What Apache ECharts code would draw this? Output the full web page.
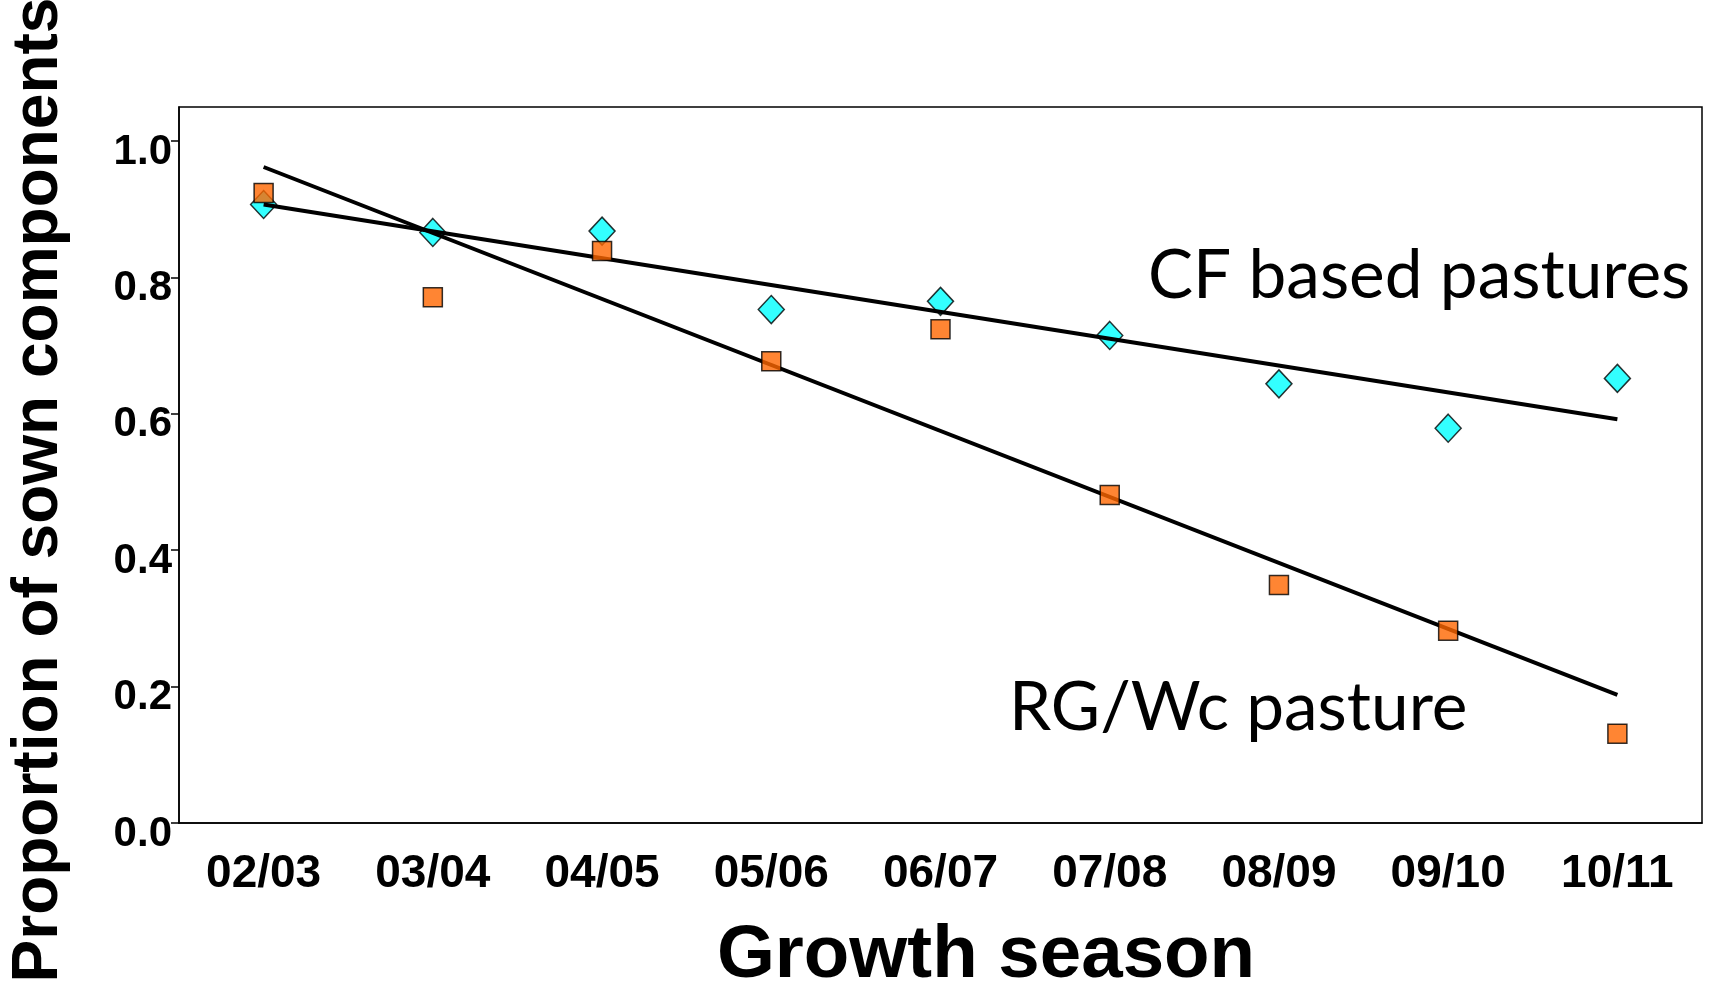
<!DOCTYPE html>
<html>
<head>
<meta charset="utf-8">
<script src="https://cdn.jsdelivr.net/npm/echarts@6/dist/echarts.min.js"></script>
<style>
html,body{margin:0;padding:0;background:#fff;}
#chart{width:1709px;height:985px;}
</style>
</head>
<body>
<div id="chart"></div>
<script>
// ---- data ----
const seasons = ['02/03','03/04','04/05','05/06','06/07','07/08','08/09','09/10','10/11'];
const cfValues = [0.907, 0.866, 0.868, 0.753, 0.765, 0.715, 0.644, 0.579, 0.652];
const rgValues = [0.924, 0.771, 0.839, 0.677, 0.724, 0.481, 0.349, 0.282, 0.131];
// fitted trend lines: value at first and last season
const cfTrend = [0.907, 0.592];
const rgTrend = [0.962, 0.188];
const yTicks = [0, 0.2, 0.4, 0.6, 0.8, 1.0];

const chart = echarts.init(document.getElementById('chart'), null, {renderer: 'canvas'});
const first = seasons[0], last = seasons[seasons.length - 1];
const boldFont = 'Liberation Sans, Arial, sans-serif';

chart.setOption({
  animation: false,
  backgroundColor: '#ffffff',
  grid: {left: 179, right: 7, top: 107, bottom: 162, show: true, borderColor: '#000', borderWidth: 1.5, backgroundColor: 'transparent'},
  xAxis: {
    type: 'category',
    data: seasons,
    boundaryGap: true,
    axisLine: {lineStyle: {color: '#000', width: 1.5}},
    axisTick: {alignWithLabel: true, length: 10, lineStyle: {color: '#000', width: 1.5}},
    axisLabel: {color: '#000', fontFamily: boldFont, fontWeight: 'bold', fontSize: 46, margin: 28, interval: 0},
    splitLine: {show: false}
  },
  yAxis: {
    type: 'value',
    min: 0, max: 1.05,
    axisLine: {show: true, lineStyle: {color: '#000', width: 1.5}},
    axisTick: {show: true, length: 8, customValues: yTicks, lineStyle: {color: '#000', width: 1.5}},
    axisLabel: {color: '#000', fontFamily: boldFont, fontWeight: 'bold', fontSize: 42, margin: 7,
      customValues: yTicks, verticalAlign: 'top', lineHeight: 22, formatter: v => v.toFixed(1)},
    splitLine: {show: false}
  },
  series: [
    {
      name: 'CF', type: 'scatter', z: 2,
      data: seasons.map((s, i) => [s, cfValues[i]]),
      symbol: 'diamond', symbolSize: [26, 28],
      itemStyle: {color: '#00FFFF', borderColor: '#000', borderWidth: 1.5}
    },
    {
      name: 'CF trend', type: 'line', z: 3,
      data: [[first, cfTrend[0]], [last, cfTrend[1]]],
      symbol: 'none', lineStyle: {color: '#000', width: 4}
    },
    {
      name: 'RG trend', type: 'line', z: 3,
      data: [[first, rgTrend[0]], [last, rgTrend[1]]],
      symbol: 'none', lineStyle: {color: '#000', width: 4}
    },
    {
      name: 'RG', type: 'scatter', z: 4,
      data: seasons.map((s, i) => [s, rgValues[i]]),
      symbol: 'rect', symbolSize: 19,
      itemStyle: {color: '#FF6600', borderColor: '#000', borderWidth: 1.5}
    }
  ],
  graphic: [
    {type: 'text', left: 1148, top: 242, z: 10,
      style: {text: 'CF based pastures', font: '67.5px Lato, "Open Sans", sans-serif', fill: '#000'}},
    {type: 'text', left: 1009, top: 674, z: 10,
      style: {text: 'RG/Wc pasture', font: '67.5px Lato, "Open Sans", sans-serif', fill: '#000'}},
    {type: 'text', x: 39, y: 490, rotation: Math.PI / 2, z: 10,
      style: {text: 'Proportion of sown components', font: 'bold 64px "Liberation Sans", Arial, sans-serif', fill: '#000', align: 'center', verticalAlign: 'middle'}},
    {type: 'text', x: 986, y: 956, z: 10,
      style: {text: 'Growth season', font: 'bold 74.5px "Liberation Sans", Arial, sans-serif', fill: '#000', align: 'center', verticalAlign: 'middle'}}
  ]
});
</script>
</body>
</html>
